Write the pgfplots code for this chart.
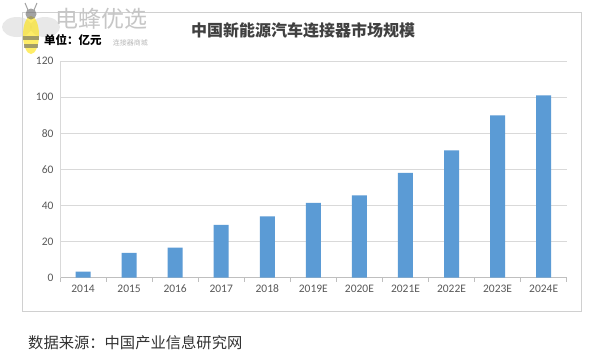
\documentclass[border=0pt]{standalone}
\usepackage{pgfplots}
\pgfplotsset{compat=1.18}
\usepackage{fontspec}
\setmainfont{Carlito}
\newfontfamily\cjk{Noto Sans CJK SC}
\definecolor{barblue}{HTML}{5B9BD5}
\definecolor{gridgray}{HTML}{D9D9D9}
\definecolor{axisgray}{HTML}{BFBFBF}
\definecolor{labelgray}{HTML}{595959}
\definecolor{framegray}{HTML}{D0D0D0}
\definecolor{titlegray}{HTML}{404040}
\begin{document}
\begin{tikzpicture}
\path[fill=white, use as bounding box] (0pt,0pt) rectangle (600pt,360pt);
% outer frame
\draw[framegray, line width=0.8pt] (22pt,348pt) rectangle (581pt,49pt);
% watermark logo
\begin{scope}[opacity=0.6]
\fill[gray!30] (17pt,333pt) ellipse [x radius=15pt, y radius=10pt];
\fill[gray!30] (45pt,333pt) ellipse [x radius=15pt, y radius=10pt];
\fill[yellow!85!orange] (31pt,325pt) ellipse [x radius=8pt, y radius=19pt];
\fill[black!60] (23.2pt,320pt) rectangle (38.8pt,324pt);
\fill[black!60] (23.8pt,312pt) rectangle (38.2pt,316pt);
\fill[black!60] (31pt,346pt) circle (5.5pt);
\draw[black!60, line width=1pt] (28pt,350pt) -- (25pt,357pt);
\draw[black!60, line width=1pt] (34pt,350pt) -- (37pt,357pt);
\end{scope}
\node[anchor=west, text=gray!45, font=\cjk\fontsize{23}{23}\selectfont, inner sep=0pt] at (55pt,341pt) {电蜂优选};
\node[anchor=east, text=gray!55, font=\cjk\fontsize{7}{7}\selectfont, inner sep=0pt] at (148pt,317pt) {连接器商城};
% title
\node[text=titlegray, font=\cjk\bfseries\fontsize{16}{16}\selectfont, inner sep=0pt] at (303pt,330pt) {中国新能源汽车连接器市场规模};
\node[anchor=west, text=black, font=\cjk\bfseries\fontsize{11.5}{11.5}\selectfont, inner sep=0pt] at (44pt,320pt) {单位：亿元};
% source
\node[anchor=west, text=black!80, font=\cjk\fontsize{15.3}{15.3}\selectfont, inner sep=0pt] at (28pt,17pt) {数据来源：中国产业信息研究网};
\begin{axis}[
  at={(60pt,82.3pt)}, anchor=south west, scale only axis,
  width=506.7pt, height=216.7pt,
  xmin=-0.5, xmax=10.5, ymin=0, ymax=120,
  xtick={0,1,2,3,4,5,6,7,8,9,10},
  xticklabels={2014,2015,2016,2017,2018,2019E,2020E,2021E,2022E,2023E,2024E},
  minor xtick={-0.5,0.5,1.5,2.5,3.5,4.5,5.5,6.5,7.5,8.5,9.5,10.5},
  ytick={0,20,40,60,80,100,120},
  major tick length=0pt, minor tick length=4pt, tick align=outside,
  minor x tick style={draw=axisgray, line width=0.8pt},
  ymajorgrids, grid style={gridgray, line width=0.8pt},
  axis x line*=bottom, axis y line*=left,
  x axis line style={axisgray, line width=0.8pt, -},
  y axis line style={gridgray, line width=0.8pt, -},
  /pgf/number format/assume math mode=true,
  tick label style={text=labelgray, font=\fontsize{11.5}{11.5}\selectfont},
  xticklabel style={anchor=north, text height=8pt, text depth=0pt, yshift=-3pt},
  yticklabel style={xshift=-3pt},
  ybar, bar width=15pt,
]
\addplot[fill=barblue, draw=none] coordinates {
(0,3.3) (1,13.8) (2,16.6) (3,29.3) (4,34.0) (5,41.4) (6,45.6) (7,58.1) (8,70.5) (9,89.9) (10,100.9)
};
\end{axis}
\end{tikzpicture}
\end{document}
